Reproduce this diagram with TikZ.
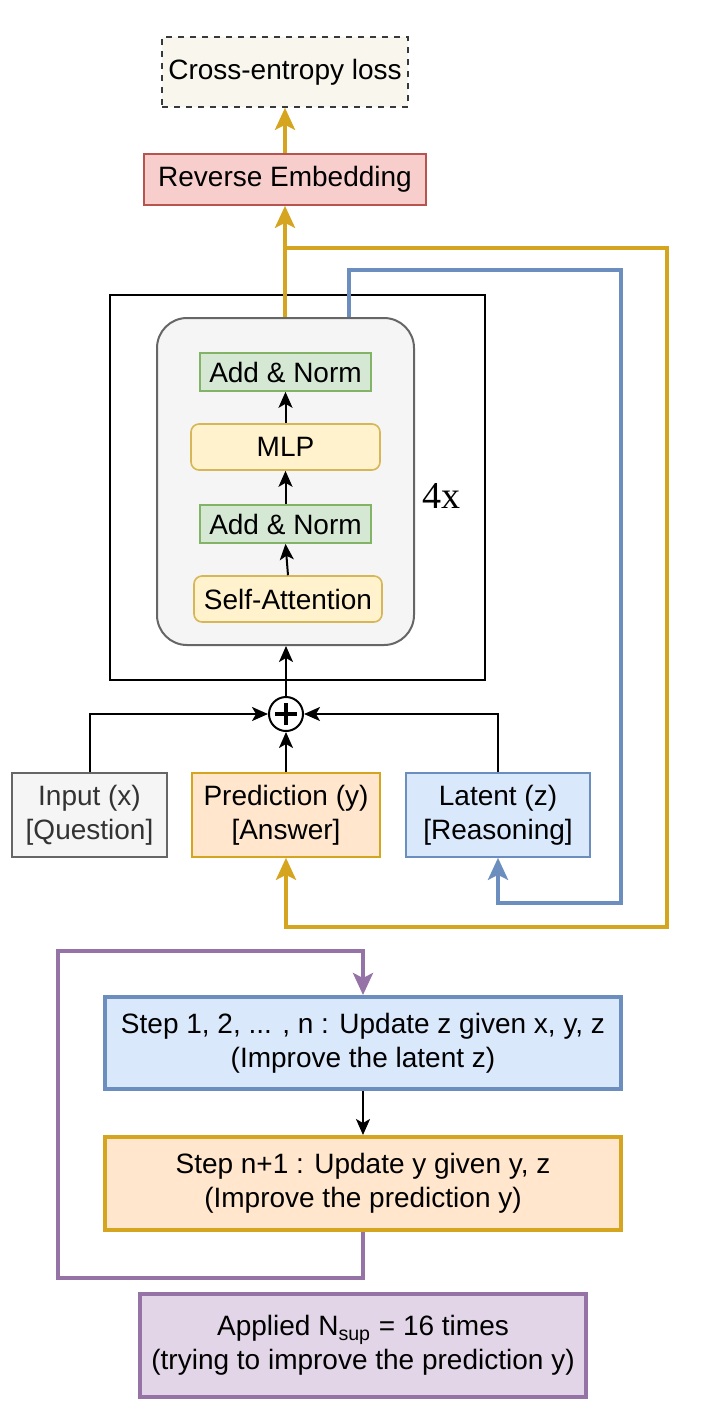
\documentclass[tikz,border=0pt]{standalone}
\usepackage{fontspec}
\setmainfont{Liberation Sans}
\newfontfamily\serifx{Liberation Serif}
\usetikzlibrary{arrows.meta}
\definecolor{goldc}{HTML}{D6A520}
\definecolor{bluec}{HTML}{6C8EBF}
\definecolor{purc}{HTML}{9673A6}
\definecolor{grayst}{HTML}{666666}
\definecolor{grayfill}{HTML}{F5F5F5}
\definecolor{greenfill}{HTML}{D5E8D4}
\definecolor{greenst}{HTML}{82B366}
\definecolor{yelfill}{HTML}{FFF2CC}
\definecolor{yelst}{HTML}{D6B656}
\definecolor{orfill}{HTML}{FFE6CC}
\definecolor{blfill}{HTML}{DAE8FC}
\definecolor{pufill}{HTML}{E1D5E7}
\definecolor{redfill}{HTML}{F8CECC}
\definecolor{redst}{HTML}{B85450}
\definecolor{cefill}{HTML}{F9F7ED}
\definecolor{cest}{HTML}{36393D}
\tikzset{
  base/.style={draw, line width=0.8pt, align=center, inner sep=0pt, font=\fontsize{14}{17}\selectfont},
  conn/.style={line width=1pt, -{Stealth[length=8pt,width=7pt,inset=2pt]}},
  thick conn/.style={line width=2pt, -{Stealth[length=11pt,width=10pt,inset=2.5pt]}},
}
\begin{document}
\begin{tikzpicture}[x=0.5pt,y=-0.5pt]
\useasboundingbox (0,0) rectangle (717,1421);
% top
\node[base, dashed, draw=cest, fill=cefill, minimum width=123pt, minimum height=35pt] (ce) at (285,72) {Cross-entropy loss};
\node[base, draw=redst, fill=redfill, minimum width=141pt, minimum height=25.5pt] (re) at (285,179.5) {Reverse Embedding};
% outer block
\node[draw, line width=1pt, minimum width=187.5pt, minimum height=192.5pt, inner sep=0pt] (outer) at (297.5,487.5) {};
\node[draw=grayst, fill=grayfill, line width=1pt, rounded corners=15pt, minimum width=128.5pt, minimum height=163.5pt, inner sep=0pt] (gray) at (285.5,481.5) {};
\node[base, draw=greenst, fill=greenfill, minimum width=85.5pt, minimum height=19pt] (an1) at (285.5,372) {Add \& Norm};
\node[base, draw=yelst, fill=yelfill, rounded corners=4pt, minimum width=94.5pt, minimum height=23pt] (mlp) at (285.5,447) {MLP};
\node[base, draw=greenst, fill=greenfill, minimum width=85.5pt, minimum height=19pt] (an2) at (285.5,524) {Add \& Norm};
\node[base, draw=yelst, fill=yelfill, rounded corners=4pt, minimum width=94pt, minimum height=23pt] (sa) at (288,599) {Self-Attention};
\node[font=\serifx\fontsize{19}{22}\selectfont, inner sep=0pt] (four) at (441,496) {4x};
\draw[conn] (sa.north) -- (an2.south);
\draw[conn] (an2.north) -- (mlp.south);
\draw[conn] (mlp.north) -- (an1.south);
% plus
\node[draw, circle, line width=1pt, minimum size=17pt, inner sep=0pt] (plus) at (286,714) {};
\draw[line width=1.8pt] ([yshift=-5.5pt]plus.center) -- ([yshift=5.5pt]plus.center);
\draw[line width=1.8pt] ([xshift=-5.5pt]plus.center) -- ([xshift=5.5pt]plus.center);
\draw[conn] (plus.north) -- (plus.north |- gray.south);
% inputs
\node[base, draw=grayst, fill=grayfill, text=black!80, minimum width=77.5pt, minimum height=42pt] (inp) at (89.5,815) {Input (x)\\{}[Question]};
\node[base, draw=goldc, fill=orfill, minimum width=94pt, minimum height=42pt] (pred) at (286,815) {Prediction (y)\\{}[Answer]};
\node[base, draw=bluec, fill=blfill, minimum width=92pt, minimum height=42pt] (lat) at (498,815) {Latent (z)\\{}[Reasoning]};
\draw[conn] (inp.north) |- (plus.west);
\draw[conn] (lat.north) |- (plus.east);
\draw[conn] (pred.north) -- (plus.south);
% gold path
\draw[thick conn, goldc] (re.north) -- (ce.south);
\draw[thick conn, goldc] (re.south |- gray.north) -- (re.south);
\coordinate (gj) at (285,248);
\draw[thick conn, goldc] (gj) -- (667,248) -- (667,927) -- (286,927) -- (pred.south);
% blue path
\coordinate (bx) at (349,270);
\draw[thick conn, bluec] (bx |- gray.north) -- (bx) -- (621,270) -- (621,903) -- (498,903) -- (lat.south);
% bottom
\node[base, line width=2pt, draw=bluec, fill=blfill, minimum width=258pt, minimum height=46pt] (s1) at (363,1043) {Step 1, 2, ... , n : Update z given x, y, z\\(Improve the latent z)};
\node[base, line width=2pt, draw=goldc, fill=orfill, minimum width=258pt, minimum height=46.5pt] (s2) at (363,1183.5) {Step n+1 : Update y given y, z\\(Improve the prediction y)};
\node[base, line width=2pt, draw=purc, fill=pufill, minimum width=223pt, minimum height=51.5pt] (app) at (363,1345.5) {Applied N\textsubscript{sup} = 16 times\\(trying to improve the prediction y)};
\draw[conn] (s1.south) -- (s2.north);
\draw[thick conn, purc] (s2.south) -- (363,1278) -- (58,1278) -- (58,951) -- (363,951) -- (s1.north);
\end{tikzpicture}
\end{document}
